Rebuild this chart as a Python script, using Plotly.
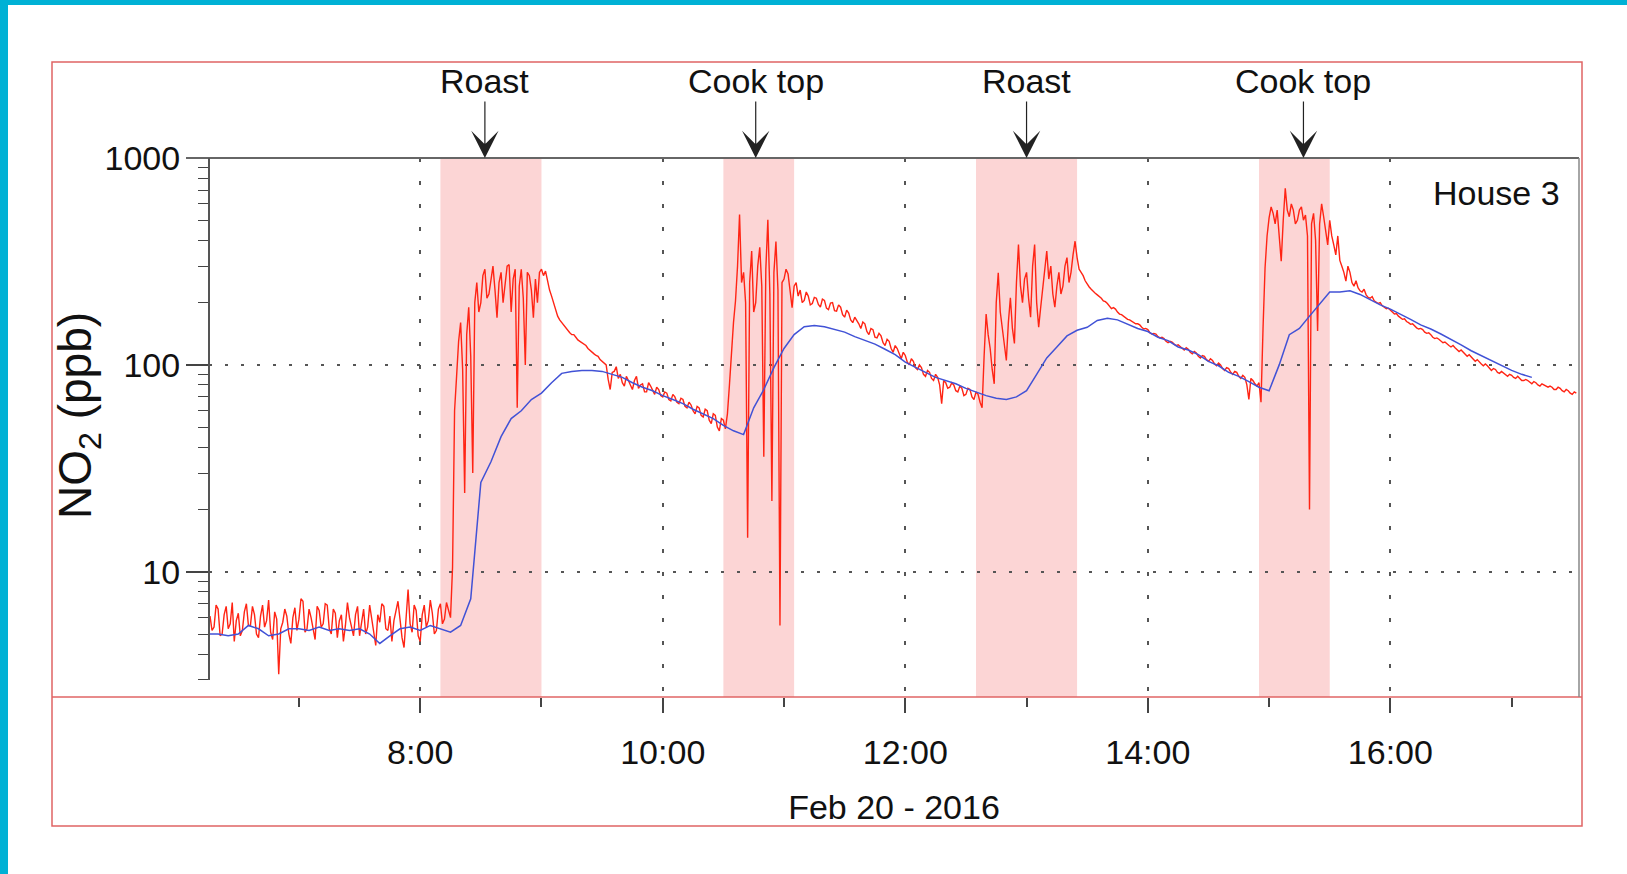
import math
import pandas as pd
import plotly.graph_objects as go

DAY = "2016-02-20"

# Red NO2 trace, one value per minute from 06:16 (20 values per row)
red_start = "06:16"
red_step_min = 1
red_ppb = [
    6.1, 5.2, 5.4, 6.9, 6.6, 4.9, 5.0, 6.2, 6.8, 5.3, 5.6, 7.1, 4.6, 5.8, 6.3, 4.9, 5.2, 6.4, 7.0, 5.5,
    5.5, 6.8, 6.2, 5.0, 4.8, 6.1, 6.9, 5.4, 5.8, 7.3, 5.1, 4.7, 6.4, 5.9, 3.2, 5.3, 5.7, 6.6, 6.1, 5.0,
    4.5, 6.0, 6.7, 5.2, 5.9, 7.4, 7.2, 5.1, 5.3, 6.6, 6.0, 5.2, 4.7, 6.8, 6.5, 5.4, 5.6, 7.0, 6.9, 5.3,
    5.0, 6.6, 6.3, 4.8, 5.8, 6.2, 4.6, 5.5, 7.1, 6.0, 5.5, 4.9, 6.2, 6.8, 4.9, 5.6, 6.6, 5.0, 5.4, 6.9,
    6.0, 5.1, 4.4, 6.2, 5.7, 7.0, 6.8, 5.3, 5.2, 6.1, 4.6, 5.8, 6.4, 7.2, 5.9, 4.8, 4.3, 6.0, 8.2, 5.6,
    5.1, 6.9, 6.5, 4.9, 4.6, 6.2, 6.9, 5.4, 5.8, 7.3, 6.3, 5.0, 5.2, 6.6, 7.0, 5.6, 5.9, 7.1, 6.4, 6.0,
    10.5, 60, 88, 130, 160, 95, 24, 140, 190, 110, 30, 200, 250, 180, 200, 270, 290, 210, 220, 260,
    300, 230, 169, 250, 280, 200, 240, 300, 305, 180, 260, 290, 62, 240, 290, 210, 100, 280, 270, 230,
    169, 260, 200, 280, 290, 270, 284, 250, 230, 215, 200, 185, 172, 165, 160, 155, 150, 146, 143, 140,
    140, 136, 132, 130, 128, 125, 124, 120, 118, 115, 113, 111, 110, 106, 104, 101, 100, 85, 76, 92,
    93, 98, 86, 90, 82, 79, 88, 84, 80, 76, 84, 88, 77, 80, 81, 74, 74, 82, 79, 76,
    72, 78, 76, 71, 70, 74, 73, 68, 67, 72, 70, 66, 65, 69, 68, 63, 62, 66, 64, 60,
    58, 63, 62, 57, 56, 61, 60, 54, 52, 58, 57, 50, 48, 55, 54, 49, 58, 80, 115, 160,
    204, 300, 533, 250, 280, 200, 14.6, 250, 355, 180, 200, 300, 370, 240, 36, 290, 503, 220, 22, 280,
    395, 230, 5.5, 250, 260, 290, 275, 220, 189, 240, 250, 215, 230, 200, 205, 225, 215, 195, 198, 212,
    210, 196, 190, 208, 205, 188, 185, 199, 200, 183, 182, 195, 190, 175, 170, 184, 178, 165, 160, 170,
    165, 158, 150, 161, 158, 145, 140, 150, 148, 136, 135, 142, 138, 128, 124, 133, 130, 120, 115, 124,
    120, 112, 107, 115, 111, 103, 100, 107, 104, 97, 95, 100, 97, 90, 88, 94, 92, 86, 84, 90,
    87, 80, 65, 84, 82, 77, 78, 82, 80, 75, 74, 79, 77, 71, 72, 77, 76, 70, 68, 74,
    72, 66, 62, 110, 176, 140, 120, 95, 81, 200, 279, 180, 150, 120, 105, 160, 211, 150, 127, 250,
    382, 240, 200, 260, 280, 210, 170, 300, 382, 200, 152, 190, 240, 300, 355, 260, 300, 220, 190, 240,
    280, 220, 240, 300, 330, 250, 280, 340, 396, 330, 290, 280, 270, 255, 245, 238, 232, 226, 222, 218,
    214, 210, 204, 202, 198, 192, 187, 189, 186, 180, 176, 175, 172, 168, 166, 165, 163, 160, 158, 158,
    156, 152, 149, 150, 148, 143, 141, 142, 141, 137, 135, 136, 134, 130, 128, 130, 129, 126, 124, 125,
    123, 120, 118, 121, 119, 115, 113, 116, 114, 110, 108, 111, 110, 106, 104, 107, 105, 101, 99, 102,
    100, 96, 94, 97, 96, 92, 90, 93, 92, 88, 86, 89, 87, 80, 68, 86, 84, 81, 79, 82,
    66, 150, 294, 420, 513, 580, 540, 480, 560, 420, 317, 500, 714, 560, 520, 600, 560, 480, 500, 560,
    580, 500, 530, 420, 20, 480, 540, 400, 146, 480, 600, 520, 450, 380, 500, 420, 380, 340, 420, 320,
    300, 280, 254, 300, 280, 250, 240, 255, 236, 228, 225, 232, 218, 212, 210, 214, 204, 200, 198, 200,
    193, 190, 187, 188, 183, 180, 176, 177, 172, 168, 166, 167, 162, 160, 157, 158, 154, 151, 149, 150,
    148, 144, 142, 143, 140, 136, 134, 135, 133, 130, 128, 129, 126, 124, 122, 124, 121, 118, 116, 118,
    115, 112, 110, 112, 109, 106, 104, 106, 104, 101, 99, 101, 99, 96, 94, 96, 95, 92, 91, 93,
    91, 89, 88, 90, 89, 87, 86, 88, 86, 84, 84, 85, 84, 82, 81, 83, 82, 80, 79, 81,
    80, 79, 78, 79, 78, 76, 76, 78, 77, 75, 74, 76, 75, 73, 72, 74, 73,
]

# Blue trace, one value every 5 minutes from 06:15 (12 values per row)
blue_start = "06:15"
blue_step_min = 5
blue_ppb = [
    5.0, 5.0, 4.9, 5.0, 5.5, 5.3, 4.9, 5.0, 5.3, 5.3, 5.2, 5.4,
    5.2, 5.3, 5.2, 5.3, 5.0, 4.5, 4.9, 5.3, 5.4, 5.2, 5.5, 5.3,
    5.1, 5.5, 7.4, 27, 34, 45, 55, 60, 68, 73, 82, 91,
    93, 94, 94, 93, 90, 87, 82, 78, 75, 71, 68, 65,
    61, 58, 55, 51, 48, 46, 62, 76, 97, 120, 140, 153,
    155, 153, 149, 144, 137, 131, 126, 119, 112, 103, 97, 92,
    87, 84, 81, 77, 74, 71, 69, 68, 70, 75, 90, 108,
    122, 138, 147, 152, 164, 168, 165, 157, 150, 145, 136, 131,
    122, 118, 112, 104, 99, 92, 88, 83, 78, 75, 100, 140,
    150, 172, 198, 225, 225, 228, 219, 206, 195, 186, 176, 166,
    156, 149, 141, 133, 125, 117, 111, 105, 99, 94, 90, 87,
]

band_start = ["08:10", "10:30", "12:35", "14:55"]
band_end = ["09:00", "11:05", "13:25", "15:30"]
event_labels = ["Roast", "Cook top", "Roast", "Cook top"]
event_times = ["08:32", "10:46", "13:00", "15:17"]

y_tickvals = [10, 100, 1000]
y_ticktext = ["10", "100", "1000"]
y_range_ppb = [2.48, 1000]
y_axis_floor = 3
x_range = ["06:15:30", "17:33:20"]
x_title = "Feb 20 - 2016"
y_title = "NO<sub>2</sub> (ppb)"
panel_label = "House 3"

# ---------------------------------------------------------------- layout
W, H = 1627, 874
ML, MR, MT, MB = 209, 48, 158, 177
PW, PH = W - ML - MR, H - MT - MB


def px(v):
    return (v - ML) / PW


def py(v):
    return (H - MB - v) / PH


FONT = "Liberation Sans, Arial, sans-serif"
FS = 34
TXT = "#111111"
AX = "#444444"

red_t = pd.date_range(f"{DAY} {red_start}", periods=len(red_ppb), freq=f"{red_step_min}min")
blue_t = pd.date_range(f"{DAY} {blue_start}", periods=len(blue_ppb), freq=f"{blue_step_min}min")

fig = go.Figure()
fig.add_trace(go.Scatter(x=red_t, y=red_ppb, mode="lines",
                         line=dict(color="#ff2414", width=1.4), showlegend=False))
fig.add_trace(go.Scatter(x=blue_t, y=blue_ppb, mode="lines",
                         line=dict(color="#4152d6", width=1.5), showlegend=False))

shapes = []
for s, e in zip(band_start, band_end):
    shapes.append(dict(type="rect", xref="x", yref="paper", x0=f"{DAY} {s}", x1=f"{DAY} {e}",
                       y0=0, y1=1, fillcolor="#fcd5d5", line_width=0, layer="below"))
# page border (cyan)
shapes.append(dict(type="rect", xref="paper", yref="paper", x0=px(0), x1=px(W), y0=py(5), y1=py(0),
                   fillcolor="#00b1d5", line_width=0, layer="above"))
shapes.append(dict(type="rect", xref="paper", yref="paper", x0=px(0), x1=px(8), y0=py(H), y1=py(0),
                   fillcolor="#00b1d5", line_width=0, layer="above"))
# red frame and inner red line (x axis line)
shapes.append(dict(type="rect", xref="paper", yref="paper", x0=px(52), x1=px(1582), y0=py(826), y1=py(62),
                   line=dict(color="#e06464", width=1.5), fillcolor="rgba(0,0,0,0)", layer="above"))
shapes.append(dict(type="line", xref="paper", yref="paper", x0=px(52), x1=px(1582), y0=0, y1=0,
                   line=dict(color="#e06464", width=1.5), layer="above"))
# grey plot box: top line, right line, y axis line
shapes.append(dict(type="line", xref="paper", yref="paper", x0=px(186), x1=1, y0=1, y1=1,
                   line=dict(color="#666666", width=2), layer="above"))
shapes.append(dict(type="line", xref="paper", yref="paper", x0=1, x1=1, y0=0, y1=1,
                   line=dict(color="#888888", width=1.5), layer="above"))
shapes.append(dict(type="line", xref="paper", yref="y", x0=0, x1=0, y0=y_axis_floor, y1=y_tickvals[-1],
                   line=dict(color="#555555", width=2), layer="above"))

annotations = []
for lab, t in zip(event_labels, event_times):
    annotations.append(dict(x=f"{DAY} {t}", y=math.log10(y_tickvals[-1]), xref="x", yref="y",
                            text=lab, showarrow=True, ax=0, ay=-77, arrowhead=3, arrowsize=3.8,
                            arrowwidth=1.2, arrowcolor="#222222",
                            font=dict(family=FONT, size=FS, color=TXT)))
annotations.append(dict(x=px(1562), y=py(193), xref="paper", yref="paper", xanchor="right",
                        yanchor="middle", text=panel_label, showarrow=False,
                        font=dict(family=FONT, size=FS, color=TXT)))
annotations.append(dict(x=px(78), y=py(416), xref="paper", yref="paper", xanchor="center",
                        yanchor="middle", text=y_title, textangle=-90, showarrow=False,
                        font=dict(family=FONT, size=46, color=TXT)))

fig.update_layout(
    width=W, height=H,
    margin=dict(l=ML, r=MR, t=MT, b=MB, pad=0),
    paper_bgcolor="white", plot_bgcolor="white",
    showlegend=False,
    shapes=shapes, annotations=annotations,
    xaxis=dict(
        type="date",
        range=[f"{DAY} {x_range[0]}", f"{DAY} {x_range[1]}"],
        tick0=f"{DAY} 08:00", dtick=2 * 3600 * 1000, tickformat="%-H:%M",
        ticks="outside", ticklen=15, tickwidth=1.5, tickcolor=AX,
        tickfont=dict(family=FONT, size=FS, color=TXT), ticklabelstandoff=10,
        showgrid=True, gridcolor="#555555", gridwidth=2, griddash="4px,19px",
        showline=False, zeroline=False,
        minor=dict(ticks="outside", ticklen=9, tickwidth=1.5, tickcolor=AX,
                   tick0=f"{DAY} 07:00", dtick=3600 * 1000, showgrid=False),
        title=dict(text=x_title, font=dict(family=FONT, size=FS, color=TXT), standoff=25),
        automargin=False,
    ),
    yaxis=dict(
        type="log",
        range=[math.log10(y_range_ppb[0]), math.log10(y_range_ppb[1])],
        tickmode="array", tickvals=y_tickvals, ticktext=y_ticktext,
        ticks="outside", ticklen=22, tickwidth=1.5, tickcolor=AX,
        tickfont=dict(family=FONT, size=FS, color=TXT), ticklabelstandoff=-1,
        showgrid=True, gridcolor="#555555", gridwidth=2, griddash="3px,13px",
        showline=False, zeroline=False,
        minor=dict(ticks="outside", ticklen=10, tickwidth=1.3, tickcolor=AX,
                   dtick="D1", showgrid=False),
        automargin=False,
    ),
)

fig.write_html(
    "out.html",
    config={"displayModeBar": False},
    post_script="document.body.style.margin='0';document.body.style.overflow='hidden';",
)
